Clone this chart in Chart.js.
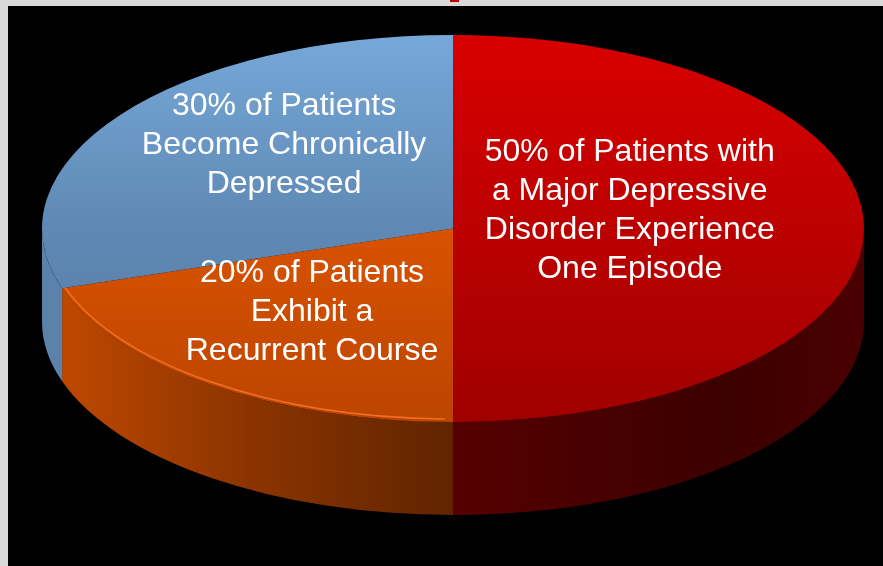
<!DOCTYPE html>
<html lang="en">
<head>
    <meta charset="UTF-8">
    <title>Major Depressive Disorder Course</title>
    <script src="https://cdn.jsdelivr.net/npm/chart.js"></script>
    <style>
        html, body { margin: 0; padding: 0; background: #d9d9d9; width: 883px; height: 566px; overflow: hidden; }
        #panel { position: absolute; left: 8px; top: 6px; width: 875px; height: 560px; background: #000; }
        #mark { position: absolute; left: 450px; top: 0; width: 9px; height: 2px; background: #c00000; }
        #wrap { position: absolute; left: 0; top: 0; width: 883px; height: 566px; }
    </style>
</head>
<body>
    <div id="panel"></div>
    <div id="mark"></div>
    <div id="wrap"><canvas id="pieChart"></canvas></div>

    <script>
        // chart data
        const categories = ['Single episode', 'Recurrent course', 'Chronically depressed'];
        const shares = [50, 20, 30];
        const labelLines = [
            ['50% of Patients with', 'a Major Depressive', 'Disorder Experience', 'One Episode'],
            ['20% of Patients', 'Exhibit a', 'Recurrent Course'],
            ['30% of Patients', 'Become Chronically', 'Depressed']
        ];

        // look of the tilted pie
        const CX = 453, CY = 228.5, RX = 411, RY = 193.5, DEPTH = 93;
        const topColors = [
            ['#d80000', '#bc0000', '#a00000'],
            ['#f05c00', '#d85200', '#bc4500'],
            ['#76a8d8', '#5f88b4', '#557aa2']
        ];
        const wallColors = [
            ['#560000', '#3c0000', '#4a0000'],
            ['#c44a00', '#8c3400', '#602400'],
            ['#5c82ac', '#5c82ac', '#5c82ac']
        ];
        // label centre as fraction of the ellipse radii
        const labelAnchor = [[0.43, -0.093], [-0.343, 0.43], [-0.411, -0.43]];

        function topFill(context) {
            const chart = context.chart;
            const area = chart.chartArea;
            const i = context.dataIndex;
            if (!area) return topColors[i][1];
            const cy = (area.top + area.bottom) / 2;
            const r = Math.min(area.right - area.left, area.bottom - area.top) / 2;
            const g = chart.ctx.createLinearGradient(0, cy - r, 0, cy + r);
            g.addColorStop(0, topColors[i][0]);
            g.addColorStop(0.5, topColors[i][1]);
            g.addColorStop(1, topColors[i][2]);
            return g;
        }

        const tiltPlugin = {
            id: 'tilt',
            beforeDatasetsDraw(chart) {
                const ctx = chart.ctx;
                const arcs = chart.getDatasetMeta(0).data;
                // side walls on the front half of the pie
                arcs.forEach((arc, i) => {
                    let a1 = arc.startAngle, a2 = arc.endAngle;
                    const lo = Math.max(a1, 0), hi = Math.min(a2, Math.PI);
                    if (hi <= lo) return;
                    const xs = CX + RX * Math.cos(lo), xe = CX + RX * Math.cos(hi);
                    const g = ctx.createLinearGradient(Math.min(xs, xe), 0, Math.max(xs, xe), 0);
                    const c = wallColors[i];
                    if (xs > xe) { g.addColorStop(0, c[2]); g.addColorStop(1, c[0]); }
                    else { g.addColorStop(0, c[0]); g.addColorStop(0.65, c[1]); g.addColorStop(1, c[2]); }
                    if (i === 1) {
                        const g2 = ctx.createLinearGradient(CX - RX, 0, CX, 0);
                        g2.addColorStop(0, c[0]); g2.addColorStop(0.5, c[1]); g2.addColorStop(1, c[2]);
                        ctx.fillStyle = g2;
                    } else if (i === 0) {
                        const g0 = ctx.createLinearGradient(CX, 0, CX + RX, 0);
                        g0.addColorStop(0, c[0]); g0.addColorStop(0.65, c[1]); g0.addColorStop(1, c[2]);
                        ctx.fillStyle = g0;
                    } else {
                        ctx.fillStyle = g;
                    }
                    ctx.beginPath();
                    ctx.ellipse(CX, CY, RX, RY, 0, lo, hi);
                    ctx.ellipse(CX, CY + DEPTH, RX, RY, 0, hi, lo, true);
                    ctx.closePath();
                    ctx.fill();
                });
                // squash the flat pie into the top face
                const a = arcs[0];
                ctx.save();
                ctx.translate(CX, CY);
                ctx.scale(RX / a.outerRadius, RY / a.outerRadius);
                ctx.translate(-a.x, -a.y);
            },
            afterDatasetsDraw(chart) {
                const ctx = chart.ctx;
                ctx.restore();
                const arcs = chart.getDatasetMeta(0).data;
                // light rim on the orange front edge
                const o = arcs[1];
                ctx.save();
                ctx.strokeStyle = 'rgba(255,120,40,0.8)';
                ctx.lineWidth = 1.5;
                ctx.beginPath();
                ctx.ellipse(CX, CY, RX - 3, RY - 3, 0, Math.max(o.startAngle, 0) + 0.02, o.endAngle);
                ctx.stroke();
                // labels
                ctx.fillStyle = '#ffffff';
                ctx.font = '32px "Liberation Sans", Arial, sans-serif';
                ctx.textAlign = 'center';
                ctx.textBaseline = 'middle';
                labelLines.forEach((lines, i) => {
                    const x = CX + labelAnchor[i][0] * RX;
                    const y = CY + labelAnchor[i][1] * RY;
                    const lh = 39;
                    const y0 = y - (lines.length - 1) * lh / 2;
                    lines.forEach((t, k) => ctx.fillText(t, x, y0 + k * lh));
                });
                ctx.restore();
            }
        };

        const ctx = document.getElementById('pieChart').getContext('2d');
        const chart = new Chart(ctx, {
            type: 'pie',
            data: {
                labels: categories,
                datasets: [{
                    data: shares,
                    backgroundColor: topFill,
                    borderWidth: 0,
                    clip: false
                }]
            },
            options: {
                responsive: true,
                maintainAspectRatio: false,
                animation: false,
                events: [],
                layout: { padding: 0 },
                plugins: {
                    legend: { display: false },
                    tooltip: { enabled: false }
                }
            },
            plugins: [tiltPlugin]
        });
    </script>
</body>
</html>
